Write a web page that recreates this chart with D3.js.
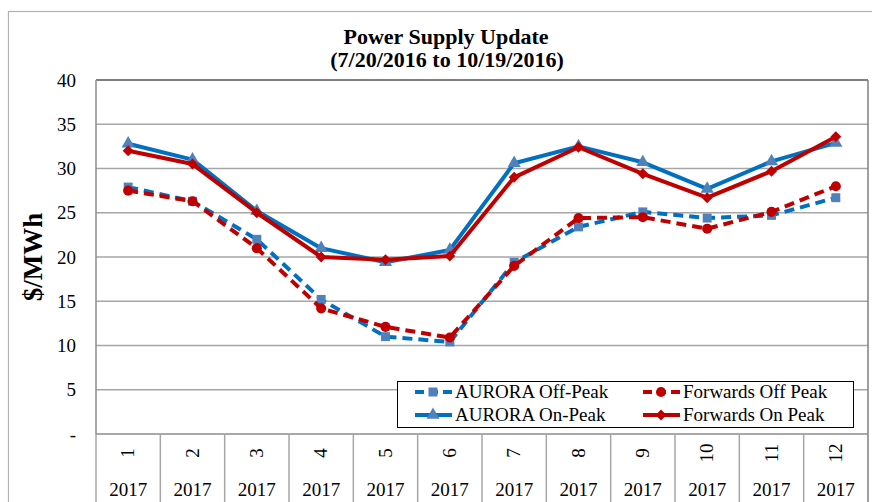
<!DOCTYPE html>
<html>
<head>
<meta charset="utf-8">
<script src="https://cdn.jsdelivr.net/npm/d3@7"></script>
<style>
  body { margin: 0; background: #fff; }
  svg { display: block; font-family: "Liberation Serif", "Times New Roman", serif; }
</style>
</head>
<body>
<div id="chart"></div>
<script>
const months = ['1', '2', '3', '4', '5', '6', '7', '8', '9', '10', '11', '12'];
const years = ['2017', '2017', '2017', '2017', '2017', '2017', '2017', '2017', '2017', '2017', '2017', '2017'];
const yTicks = [0, 5, 10, 15, 20, 25, 30, 35, 40];

const auroraOffPeak = [27.9, 26.3, 22.0, 15.2, 11.0, 10.4, 19.4, 23.4, 25.1, 24.4, 24.7, 26.7];
const forwardsOffPeak = [27.5, 26.3, 21.0, 14.2, 12.1, 10.9, 19.0, 24.4, 24.5, 23.2, 25.1, 28.0];
const auroraOnPeak = [32.8, 31.0, 25.2, 21.0, 19.4, 20.8, 30.6, 32.5, 30.7, 27.7, 30.8, 32.9];
const forwardsOnPeak = [32.0, 30.5, 25.0, 20.0, 19.7, 20.1, 29.0, 32.4, 29.4, 26.7, 29.7, 33.6];

const seriesNames = ['AURORA Off-Peak', 'Forwards Off Peak', 'AURORA On-Peak', 'Forwards On Peak'];

const W = 872, H = 502;
const plot = { left: 96, right: 868, top: 80, bottom: 434 };

const series = [
  { name: seriesNames[0], values: auroraOffPeak, line: '#0070C0', fill: '#4F81BD', dash: '10,6', symbol: d3.symbolSquare, size: 80, rot: 0 },
  { name: seriesNames[2], values: auroraOnPeak, line: '#0070C0', fill: '#4F81BD', dash: null, symbol: d3.symbolTriangle, size: 75, rot: 0 },
  { name: seriesNames[1], values: forwardsOffPeak, line: '#C00000', fill: '#C00000', dash: '10,6', symbol: d3.symbolCircle, size: 80, rot: 0 },
  { name: seriesNames[3], values: forwardsOnPeak, line: '#C00000', fill: '#C00000', dash: null, symbol: d3.symbolSquare, size: 60, rot: 45 }
];

const svg = d3.select('#chart').append('svg')
  .attr('width', W).attr('height', H);

// outer chart border
svg.append('rect')
  .attr('x', 8.5).attr('y', 11.5)
  .attr('width', W + 10).attr('height', H + 10)
  .attr('fill', '#fff').attr('stroke', '#b3b3b3').attr('stroke-width', 1.2);

// title
const title = svg.append('text')
  .attr('text-anchor', 'middle')
  .attr('font-weight', 'bold')
  .attr('font-size', 22)
  .attr('fill', '#000');
title.append('tspan').attr('x', 446).attr('y', 44).text('Power Supply Update');
title.append('tspan').attr('x', 447).attr('y', 67).text('(7/20/2016 to 10/19/2016)');

const x = d3.scaleBand().domain(months).range([plot.left, plot.right]).padding(0);
const y = d3.scaleLinear().domain([0, 40]).range([plot.bottom, plot.top]);
const cx = i => x(months[i]) + x.bandwidth() / 2;

// gridlines
svg.append('g')
  .selectAll('line')
  .data(yTicks.filter(t => t > 0 && t < 40))
  .join('line')
  .attr('x1', plot.left).attr('x2', plot.right)
  .attr('y1', d => y(d)).attr('y2', d => y(d))
  .attr('stroke', '#a6a6a6').attr('stroke-width', 1.5);

// y axis
const yAxis = d3.axisLeft(y)
  .tickValues(yTicks)
  .tickSize(0)
  .tickPadding(20)
  .tickFormat(d => d === 0 ? '-' : d);
const yg = svg.append('g')
  .attr('transform', `translate(${plot.left},0)`)
  .call(yAxis);
yg.select('.domain').remove();
yg.selectAll('text')
  .attr('font-family', '"Liberation Serif", serif')
  .attr('font-size', 19)
  .attr('fill', '#000');

// plot frame
svg.append('line')
  .attr('x1', plot.left).attr('x2', plot.right)
  .attr('y1', plot.top).attr('y2', plot.top)
  .attr('stroke', '#000').attr('stroke-width', 1.2);
svg.append('line')
  .attr('x1', plot.left).attr('x2', plot.left)
  .attr('y1', plot.top).attr('y2', plot.bottom)
  .attr('stroke', '#8c8c8c').attr('stroke-width', 1.5);
svg.append('line')
  .attr('x1', plot.right).attr('x2', plot.right)
  .attr('y1', plot.top).attr('y2', H)
  .attr('stroke', '#7f7f7f').attr('stroke-width', 1.5);

// y title
svg.append('text')
  .attr('transform', `translate(42,257) rotate(-90)`)
  .attr('text-anchor', 'middle')
  .attr('font-weight', 'bold')
  .attr('font-size', 27)
  .text('$/MWh');

// x axis: multi-level category
svg.append('line')
  .attr('x1', plot.left).attr('x2', plot.right)
  .attr('y1', plot.bottom).attr('y2', plot.bottom)
  .attr('stroke', '#8c8c8c').attr('stroke-width', 1.5);
svg.append('g')
  .selectAll('line')
  .data(months)
  .join('line')
  .attr('x1', d => x(d)).attr('x2', d => x(d))
  .attr('y1', plot.bottom).attr('y2', H)
  .attr('stroke', '#a6a6a6').attr('stroke-width', 1.5);

svg.append('g')
  .selectAll('text')
  .data(months)
  .join('text')
  .attr('transform', d => `translate(${x(d) + x.bandwidth() / 2 + 6},453) rotate(-90)`)
  .attr('text-anchor', 'middle')
  .attr('font-size', 19)
  .text(d => d);

svg.append('g')
  .selectAll('text')
  .data(years)
  .join('text')
  .attr('x', (d, i) => cx(i))
  .attr('y', 496)
  .attr('text-anchor', 'middle')
  .attr('font-size', 19)
  .text(d => d);

// series
const line = d3.line().x((d, i) => cx(i)).y(d => y(d));
series.forEach(s => {
  const g = svg.append('g');
  g.append('path')
    .attr('d', line(s.values))
    .attr('fill', 'none')
    .attr('stroke', s.line)
    .attr('stroke-width', 4)
    .attr('stroke-dasharray', s.dash)
    .attr('stroke-linejoin', 'round');
  g.selectAll('path.mk')
    .data(s.values)
    .join('path')
    .attr('class', 'mk')
    .attr('d', d3.symbol(s.symbol, s.size))
    .attr('transform', (d, i) => `translate(${cx(i)},${y(d)}) rotate(${s.rot})`)
    .attr('fill', s.fill);
});

// legend
const legend = svg.append('g');
legend.append('rect')
  .attr('x', 397.5).attr('y', 381.5)
  .attr('width', 456).attr('height', 46)
  .attr('fill', '#fff').attr('stroke', '#000').attr('stroke-width', 1);

const legendPos = [
  { x: 415, y: 398 }, { x: 415, y: 421 }, { x: 643, y: 398 }, { x: 643, y: 421 }
];
series.forEach((s, i) => {
  const p = legendPos[i];
  const lg = legend.append('g').attr('transform', `translate(${p.x},${p.y - 6})`);
  lg.append('line')
    .attr('x1', 0).attr('x2', 37)
    .attr('stroke', s.line).attr('stroke-width', 4)
    .attr('stroke-dasharray', s.dash ? '9,5' : null);
  lg.append('path')
    .attr('d', d3.symbol(s.symbol, s.size))
    .attr('transform', `translate(18,0) rotate(${s.rot})`)
    .attr('fill', s.fill);
  legend.append('text')
    .attr('x', p.x + 40).attr('y', p.y)
    .attr('font-size', 19)
    .text(s.name);
});
</script>
</body>
</html>
